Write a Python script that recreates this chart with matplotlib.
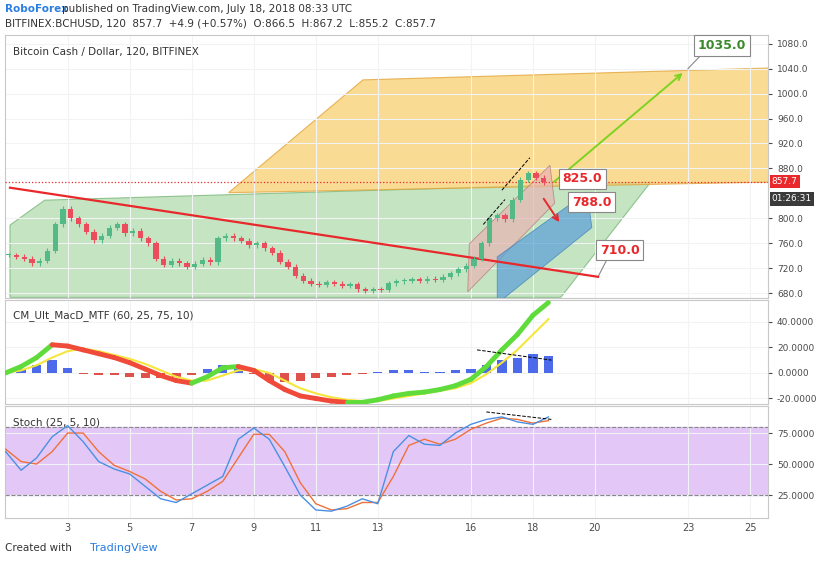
import numpy as np
import matplotlib
matplotlib.use("Agg")
import matplotlib.pyplot as plt
from matplotlib.patches import Polygon

# price closes every 6h, starting day 1.1
price_start = 1.1
closes = [741, 738, 735, 728, 732, 748, 790, 815, 800, 790, 778, 765, 772, 785, 790, 776,
          780, 768, 760, 735, 725, 732, 728, 722, 727, 733, 729, 768, 772, 768, 764, 757,
          760, 752, 745, 730, 722, 708, 700, 695, 693, 697, 695, 692, 694, 686, 684, 686,
          685, 696, 699, 700, 702, 700, 703, 701, 706, 712, 718, 724, 735, 760, 800, 805,
          798, 830, 862, 872, 865, 858]

# indicators, half-day steps from day 1
macd = [0, 5, 12, 22, 21, 18, 15, 12, 8, 3, -2, -6, -8, -3, 4, 5, 2, -6, -13, -18, -20, -22,
        -23, -23, -21, -18, -16, -15, -13, -10, -5, 5, 18, 30, 45, 55]
signal = [0, 2, 6, 12, 17, 19, 17, 14, 11, 7, 2, -3, -6, -6, -2, 2, 3, 0, -6, -12, -16, -19,
          -21, -22, -22, -20, -18, -16, -14, -12, -8, -1, 8, 18, 30, 42]
stoch_k = [60, 45, 55, 72, 81, 68, 52, 46, 42, 32, 22, 19, 26, 33, 40, 70, 79, 70, 48, 25, 13,
           12, 16, 22, 18, 60, 73, 66, 65, 75, 82, 86, 88, 84, 82, 88]
stoch_d = [62, 52, 50, 60, 75, 75, 60, 49, 44, 38, 28, 21, 22, 28, 36, 55, 74, 74, 60, 35, 18,
           13, 14, 19, 19, 40, 65, 70, 66, 70, 78, 83, 87, 86, 83, 85]

x_ticks = [3, 5, 7, 9, 11, 13, 16, 18, 20, 23, 25]
price_ticks = [680, 720, 760, 800, 880, 920, 960, 1000, 1040, 1080]
macd_ticks = [-20, 0, 20, 40]
stoch_ticks = [25, 50, 75]

W, H = 820, 563
fig = plt.figure(figsize=(W / 100, H / 100), dpi=100)
plt.rcParams['font.family'] = ['DejaVu Sans']

def fa(x0, y0, x1, y1):
    return [x0 / W, 1 - y1 / H, (x1 - x0) / W, (y1 - y0) / H]

xlim = (0.98, 25.58)
ax1 = fig.add_axes(fa(5, 35, 768, 298))
ax2 = fig.add_axes(fa(5, 300, 768, 404))
ax3 = fig.add_axes(fa(5, 406, 768, 518))

grid_c = '#f2f3f5'
for ax in (ax1, ax2, ax3):
    ax.set_xlim(*xlim)
    ax.yaxis.tick_right()
    ax.tick_params(axis='y', labelsize=6.5, colors='#4a4a4a', length=3)
    ax.tick_params(axis='x', length=0, labelbottom=False)
    ax.set_xticks(x_ticks)
    ax.grid(True, color=grid_c, linewidth=0.8)
    for s in ax.spines.values():
        s.set_color('#c8c8c8')

# main panel
ax1.set_ylim(672, 1094)
ax1.set_yticks(price_ticks)
ax1.set_yticklabels([f"{v:.1f}" for v in price_ticks])
ax1.add_patch(Polygon([(1.14, 673), (1.14, 789), (2.26, 829), (21.8, 858), (18.9, 673)],
                      closed=True, fc='#9ed39a', ec='#5aa55a', alpha=0.6, lw=0.8, zorder=1))
ax1.add_patch(Polygon([(8.19, 841), (12.52, 1022), (25.6, 1041), (25.6, 858), (8.19, 841)],
                      closed=True, fc='#f8cf6f', ec='#e0a030', alpha=0.75, lw=0.8, zorder=1))
ax1.add_patch(Polygon([(15.9, 682), (15.95, 759), (18.55, 885), (18.7, 824)],
                      closed=True, fc='#e8b4b4', ec='#b07070', alpha=0.7, lw=0.6, zorder=2))
ax1.add_patch(Polygon([(16.85, 663), (16.85, 738), (19.75, 842), (19.9, 785)],
                      closed=True, fc='#5a9fd8', ec='#3a7ab8', alpha=0.7, lw=0.6, zorder=2))
ax1.plot([1.14, 20.1], [849, 706], color='#e8282b', lw=1.6, zorder=3)
ax1.axhline(857.7, color='#e8282b', ls=':', lw=0.9, zorder=3)

cd = price_start + 0.25 * np.arange(len(closes))
opens = [closes[0]] + closes[:-1]
for d, o, c in zip(cd, opens, closes):
    col = '#53b987' if c >= o else '#eb4d5c'
    ax1.vlines(d, min(o, c) - 4, max(o, c) + 4, color=col, lw=0.8, zorder=4)
    ax1.bar(d, max(abs(c - o), 1.5), bottom=min(o, c), width=0.17, color=col, zorder=5)

ax1.plot([17.0, 17.9], [845, 897], color='k', ls='--', lw=0.7, zorder=6)
ax1.plot([16.4, 17.1], [790, 830], color='k', ls='--', lw=0.7, zorder=6)
ax1.annotate('', xy=(22.9, 1036), xytext=(18.6, 855),
             arrowprops=dict(arrowstyle='->', color='#7ed321', lw=1.4), zorder=7)
ax1.annotate('', xy=(18.9, 790), xytext=(18.3, 835),
             arrowprops=dict(arrowstyle='->', color='#e8282b', lw=1.4), zorder=7)

def label_box(x, y, txt, col):
    ax1.text(x, y, txt, color=col, fontsize=9, fontweight='bold', ha='center', va='center',
             zorder=8, bbox=dict(boxstyle='square,pad=0.3', fc='white', ec='#888888', lw=0.8))

label_box(24.1, 1077, '1035.0', '#3a8a2a')
label_box(19.6, 863, '825.0', '#e8282b')
label_box(19.9, 826, '788.0', '#e8282b')
label_box(20.8, 749, '710.0', '#e8282b')
ax1.plot([23.0, 23.5], [1040, 1066], color='#888888', lw=0.8)
ax1.plot([20.1, 20.4], [706, 735], color='#888888', lw=0.8)

ax1.text(0.01, 0.955, 'Bitcoin Cash / Dollar, 120, BITFINEX', transform=ax1.transAxes,
         fontsize=7.5, color='#333333', va='top')
ax1.text(1.005, 859, '857.7', transform=ax1.get_yaxis_transform(), fontsize=6.5, color='white',
         va='center', bbox=dict(boxstyle='square,pad=0.25', fc='#e8282b', ec='none'))
ax1.text(1.005, 831, '01:26:31', transform=ax1.get_yaxis_transform(), fontsize=6.5, color='white',
         va='center', bbox=dict(boxstyle='square,pad=0.25', fc='#3a3a3a', ec='none'))

# MACD panel
idays = 1 + 0.5 * np.arange(len(macd))
ax2.set_ylim(-24.3, 57)
ax2.set_yticks(macd_ticks)
ax2.set_yticklabels([f"{v:.4f}" for v in macd_ticks])
hist = np.array(macd) - np.array(signal)
ax2.bar(idays, hist, width=0.3, color=['#2d50e6' if h >= 0 else '#d9342b' for h in hist],
        alpha=0.85, zorder=2)
ax2.plot(idays, signal, color='#f5e63c', lw=1.5, zorder=3)
for i in range(len(macd) - 1):
    col = '#5fdc3c' if macd[i + 1] >= macd[i] else '#f04a3a'
    ax2.plot(idays[i:i + 2], macd[i:i + 2], color=col, lw=3.5, solid_capstyle='round', zorder=4)
ax2.plot([16.2, 18.6], [18, 10], color='k', ls='--', lw=0.7, zorder=5)
ax2.text(0.01, 0.9, 'CM_Ult_MacD_MTF (60, 25, 75, 10)', transform=ax2.transAxes,
         fontsize=7.5, color='#333333', va='top')

# Stoch panel
ax3.set_ylim(6.5, 96.8)
ax3.set_yticks(stoch_ticks)
ax3.set_yticklabels([f"{v:.4f}" for v in stoch_ticks])
ax3.axhspan(25, 80, color='#e3c8f7', zorder=1)
ax3.axhline(80, color='#888888', ls='--', lw=0.8, zorder=2)
ax3.axhline(25, color='#888888', ls='--', lw=0.8, zorder=2)
ax3.plot(idays, stoch_d, color='#f0703a', lw=1, zorder=3)
ax3.plot(idays, stoch_k, color='#4a90e2', lw=1, zorder=4)
ax3.plot([16.5, 18.6], [92, 86], color='k', ls='--', lw=0.7, zorder=5)
ax3.text(0.01, 0.9, 'Stoch (25, 5, 10)', transform=ax3.transAxes,
         fontsize=7.5, color='#333333', va='top')
ax3.tick_params(axis='x', labelbottom=True, labelsize=7, colors='#4a4a4a')

# header / footer
fig.text(5 / W, 1 - 9 / H, 'RoboForex', color='#2a7de1', fontsize=7.5, fontweight='bold', va='center')
fig.text(62 / W, 1 - 9 / H, 'published on TradingView.com, July 18, 2018 08:33 UTC',
         color='#333333', fontsize=7.5, va='center')
fig.text(5 / W, 1 - 24 / H, 'BITFINEX:BCHUSD, 120  857.7  +4.9 (+0.57%)  O:866.5  H:867.2  L:855.2  C:857.7',
         color='#333333', fontsize=7.5, va='center')
fig.text(5 / W, 1 - 548 / H, 'Created with', color='#333333', fontsize=7.5, va='center')
fig.text(90 / W, 1 - 548 / H, 'TradingView', color='#2a7de1', fontsize=8, va='center')

fig.savefig('out.png', dpi=100)
